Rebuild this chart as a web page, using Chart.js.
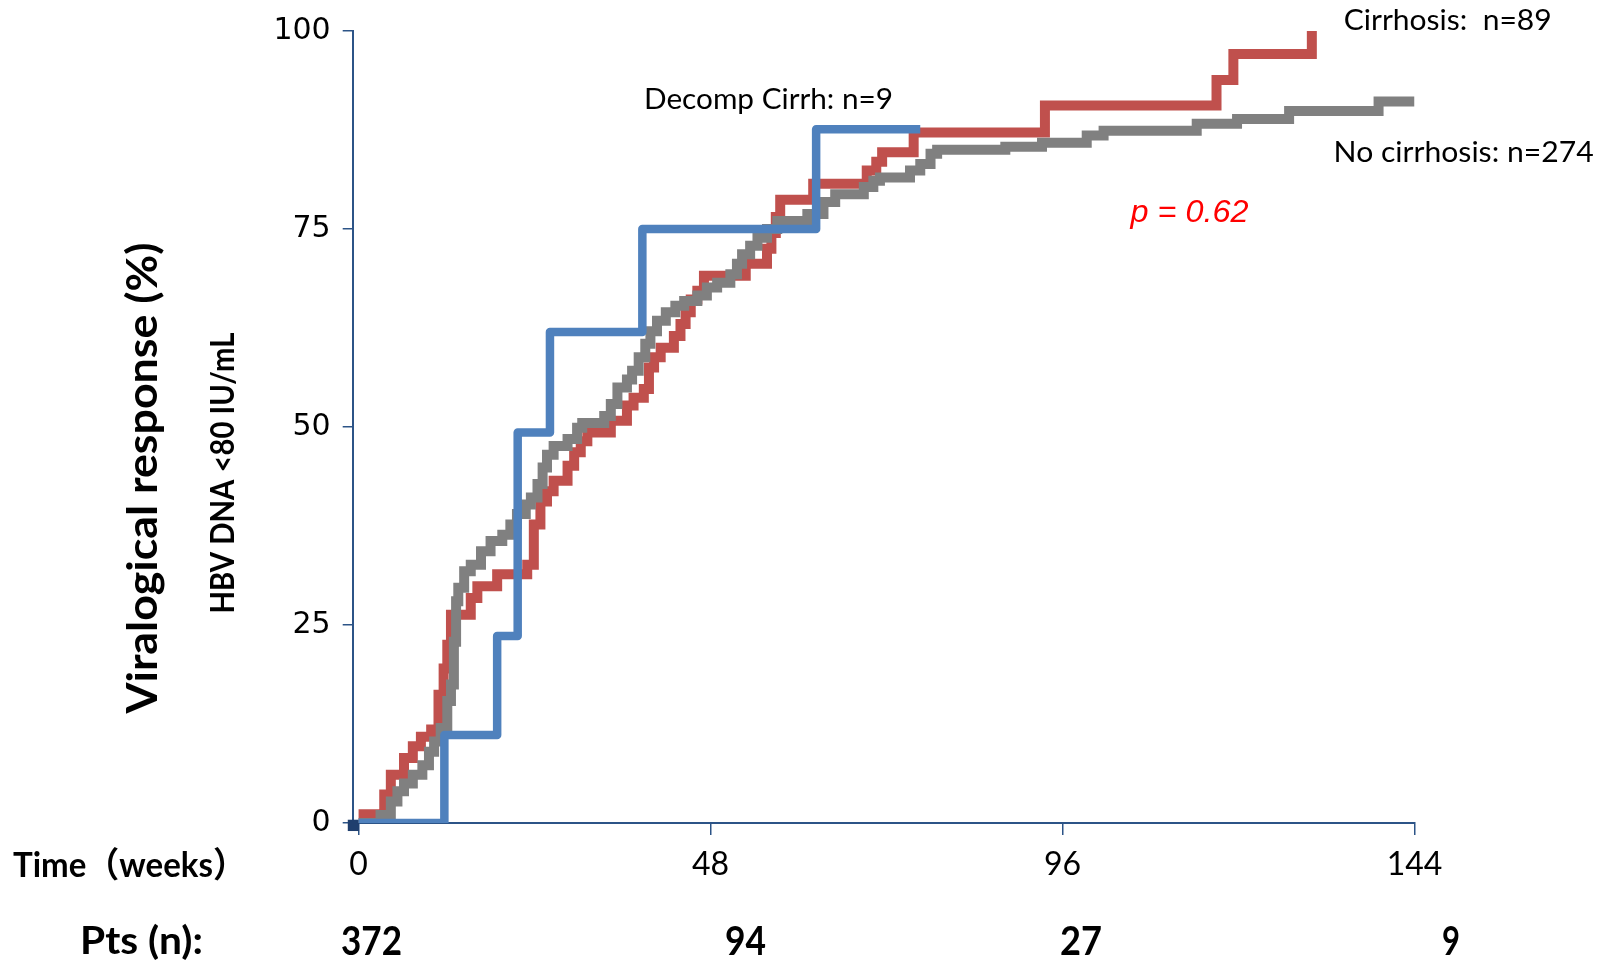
<!DOCTYPE html>
<html>
<head>
<meta charset="utf-8">
<script src="https://cdn.jsdelivr.net/npm/chart.js@4.4.1/dist/chart.umd.min.js"></script>
<style>
  html, body { margin: 0; padding: 0; background: #ffffff; }
  canvas { display: block; }
</style>
</head>
<body>
<canvas id="km" width="1606" height="964"></canvas>
<script>
// Kaplan-Meier style cumulative viralogical response (HBV DNA <80 IU/mL), by group.
// Each array pair: week of the event and cumulative response (%) after it.

const decompWeeks = [0, 11.7, 18.9, 21.7, 26.1, 38.7, 62.4, 76.6];
const decompPct   = [0, 11.1, 23.6, 49.3, 62.0, 75.0, 87.6, 87.6];

const cirrhosisWeeks = [0, 3.5, 4.4, 6.2, 7.4, 8.5, 9.9, 10.9, 11.6, 12.1, 12.6, 15.3, 16.2, 18.9,
  23.0, 23.9, 24.8, 25.7, 26.6, 28.5, 29.4, 30.3, 31.2, 34.4, 36.6, 37.5, 38.9, 39.6, 40.3, 41.2,
  43.0, 43.9, 44.6, 45.3, 46.2, 47.1, 52.8, 55.7, 56.3, 56.9, 57.5, 62.0, 69.3, 70.6, 71.4, 75.7,
  93.6, 117.0, 119.3, 130.0];
const cirrhosisPct = [1.1, 3.6, 6.1, 8.2, 9.7, 10.9, 11.8, 16.2, 19.5, 22.5, 26.3, 28.4, 29.9, 31.4,
  32.6, 37.7, 40.6, 41.9, 43.2, 45.1, 46.8, 48.2, 49.3, 50.8, 52.7, 53.7, 54.8, 57.5, 58.8, 60.0,
  61.5, 63.0, 64.5, 66.1, 67.2, 69.1, 70.6, 72.5, 74.5, 76.5, 78.7, 80.7, 82.4, 83.5, 84.7, 87.2,
  90.6, 93.8, 97.1, 100];

const noCirrhosisWeeks = [0, 3.0, 4.4, 5.3, 6.2, 7.4, 8.7, 9.6, 10.3, 11.2, 12.1, 12.6, 13.0, 13.3,
  13.6, 14.4, 15.3, 16.7, 18.0, 19.6, 20.7, 21.6, 22.8, 23.5, 24.4, 25.1, 25.7, 26.6, 28.5, 29.8,
  30.5, 33.5, 34.4, 35.3, 36.6, 37.3, 38.2, 39.1, 39.8, 40.7, 41.9, 43.2, 44.4, 46.2, 47.5, 48.9,
  50.7, 51.6, 52.3, 53.4, 54.4, 55.7, 57.1, 61.2, 63.4, 65.0, 68.9, 70.2, 71.1, 75.2, 76.6, 78.0,
  78.9, 88.2, 93.2, 99.3, 101.6, 114.3, 119.8, 126.9, 139.1, 144.0];
const noCirrhosisPct = [0, 1.0, 2.7, 4.0, 5.0, 6.1, 7.3, 9.0, 10.3, 12.0, 15.4, 17.5, 22.9, 28.0,
  29.7, 31.8, 32.6, 34.3, 35.6, 36.4, 37.7, 39.0, 40.2, 41.1, 42.8, 44.9, 46.5, 47.6, 48.5, 49.9,
  50.5, 51.4, 52.9, 55.0, 56.0, 57.1, 58.8, 60.5, 62.1, 63.4, 64.5, 65.3, 65.9, 66.6, 67.6, 68.2,
  69.3, 70.6, 71.8, 72.9, 73.9, 75.0, 76.0, 76.9, 78.4, 79.4, 80.3, 81.1, 81.5, 82.4, 83.2, 84.5,
  85.0, 85.4, 85.9, 86.8, 87.4, 88.3, 88.9, 89.9, 91.1, 91.1];

// start-of-follow-up marker at the origin
const originWeeks = [-0.7];
const originPct   = [-0.3];

const xTickValues = [0, 48, 96, 144];
const yTickValues = [0, 25, 50, 75, 100];

// patients at risk under the time axis
const atRiskLabels = ['372', '94', '27', '9'];

const groupLabels = ['Decomp Cirrh: n=9', 'Cirrhosis:  n=89', 'No cirrhosis: n=274'];
const pValueLabel = 'p = 0.62';

const toPoints = (xs, ys) => xs.map((x, i) => ({ x: x, y: ys[i] }));

const NAVY = '#2C5487';

// free text placed around the plot: centre x/y, width to fit, font, colour, rotation
const atRiskX = [371.5, 745.5, 1081, 1451];
const textItems = [
  { text: 'Viralogical response (%)', x: 143.5, y: 478, w: 471, font: 'bold 42px Lato', color: '#000', rot: true },
  { text: 'HBV DNA <80 IU/mL', x: 224, y: 473, w: 281, font: 'bold 32px Lato', color: '#000', rot: true },
  { text: 'Time（weeks）', x: 129.5, y: 865.5, w: 233, font: 'bold 35px Lato, "Noto Sans CJK SC"', color: '#000' },
  { text: 'Pts (n):', x: 141.5, y: 942, w: 123, font: 'bold 38px Lato', color: '#000' },
  { text: groupLabels[1], x: 1447.7, y: 20.5, w: 208, font: '29px Lato', color: '#000' },
  { text: groupLabels[2], x: 1463.6, y: 152.6, w: 260, font: '29px Lato', color: '#000' },
  { text: groupLabels[0], x: 768.5, y: 99.3, w: 249, font: '29px Lato', color: '#000' },
  { text: pValueLabel, x: 1189.6, y: 213, w: 118, font: 'italic 32px "Liberation Sans"', color: '#FF0000' }
];
const atRiskWidths = [61, 41, 42, 18];
atRiskLabels.forEach((t, i) => {
  textItems.push({ text: t, x: atRiskX[i], y: 942, w: atRiskWidths[i], font: 'bold 40px Lato', color: '#000' });
});

const freeText = {
  id: 'freeText',
  afterDraw(chart) {
    const ctx = chart.ctx;
    textItems.forEach(it => {
      ctx.save();
      ctx.font = it.font;
      const m = ctx.measureText(it.text).width;
      const sx = it.w / m;
      ctx.translate(it.x, it.y);
      if (it.rot) ctx.rotate(-Math.PI / 2);
      ctx.scale(sx, 1);
      ctx.fillStyle = it.color;
      ctx.textAlign = 'center';
      ctx.textBaseline = 'middle';
      ctx.fillText(it.text, 0, 0);
      ctx.restore();
    });
  }
};

const lineBase = { pointRadius: 0, fill: false, stepped: 'before', borderCapStyle: 'butt', tension: 0 };

new Chart(document.getElementById('km'), {
  type: 'line',
  data: {
    datasets: [
      Object.assign({}, lineBase, {
        label: groupLabels[0], data: toPoints(decompWeeks, decompPct),
        borderColor: '#4F81BD', borderWidth: 8.5, borderJoinStyle: 'round', order: 1
      }),
      Object.assign({}, lineBase, {
        label: groupLabels[2], data: toPoints(noCirrhosisWeeks, noCirrhosisPct),
        borderColor: '#808080', borderWidth: 10, borderJoinStyle: 'miter', order: 2
      }),
      Object.assign({}, lineBase, {
        label: groupLabels[1], data: toPoints(cirrhosisWeeks, cirrhosisPct),
        borderColor: '#C0504D', borderWidth: 10, borderJoinStyle: 'miter', order: 3
      }),
      {
        label: 'origin', data: toPoints(originWeeks, originPct), showLine: false,
        pointStyle: 'rect', pointRadius: 8, pointBackgroundColor: '#1F3F6E', pointBorderWidth: 0,
        clip: false, order: 4
      }
    ]
  },
  options: {
    responsive: false,
    animation: false,
    devicePixelRatio: 1,
    layout: { padding: { top: 31, right: 191.5, left: 0, bottom: 0 } },
    plugins: { legend: { display: false }, tooltip: { enabled: false } },
    scales: {
      x: {
        type: 'linear', min: -0.8, max: 144,
        afterBuildTicks: s => { s.ticks = xTickValues.map(v => ({ value: v })); },
        afterFit: s => { s.height = 141; },
        grid: { drawOnChartArea: false, drawTicks: true, tickLength: 12, color: NAVY, lineWidth: 1.5 },
        border: { display: true, color: NAVY, width: 2 },
        ticks: { color: '#000', font: { family: 'Lato', size: 32 }, padding: 10, maxRotation: 0, autoSkip: false }
      },
      y: {
        type: 'linear', min: 0, max: 100,
        afterBuildTicks: s => { s.ticks = yTickValues.map(v => ({ value: v })); },
        afterFit: s => { s.width = 352.7; },
        grid: { drawOnChartArea: false, drawTicks: true, tickLength: 10, color: NAVY, lineWidth: 1.5 },
        border: { display: true, color: NAVY, width: 2 },
        ticks: { color: '#000', font: { family: '"DejaVu Sans"', size: 30 }, padding: 12 }
      }
    }
  },
  plugins: [freeText]
});
</script>
</body>
</html>
